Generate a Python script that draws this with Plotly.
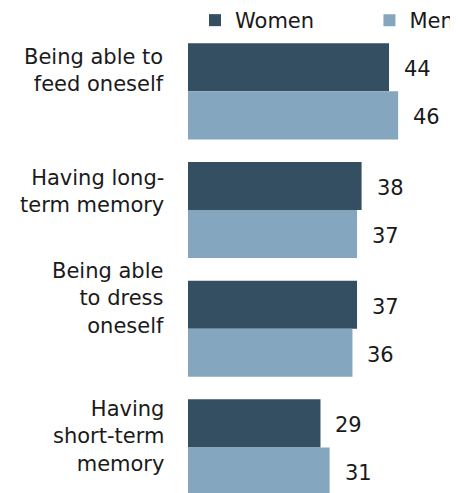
import plotly.graph_objects as go

categories = ["Being able to<br>feed oneself", "Having long-<br>term memory",
              "Being able<br>to dress<br>oneself", "Having<br>short-term<br>memory"]
women = [44, 38, 37, 29]
men = [46, 37, 36, 31]
label_shift = [21, 18.5, 30, 10.5]

WOMEN_C = "#344f62"
MEN_C = "#84a7bf"
FONT = "DejaVu Sans"
TXT = "#1a1a1a"
FS = 21

fig = go.Figure()
fig.add_trace(go.Bar(name="Women", y=categories, x=women, orientation="h",
                     marker=dict(color=WOMEN_C, line=dict(width=0)), legend="legend"))
fig.add_trace(go.Bar(name="Men", y=categories, x=men, orientation="h",
                     marker=dict(color=MEN_C, line=dict(width=0)), legend="legend2"))

ann = []
for c, w, m, s in zip(categories, women, men, label_shift):
    ann.append(dict(x=w, y=c, xref="x", yref="y", text=str(w), showarrow=False,
                    xanchor="left", yanchor="middle", xshift=13, yshift=22,
                    font=dict(family=FONT, size=FS, color=TXT)))
    ann.append(dict(x=m, y=c, xref="x", yref="y", text=str(m), showarrow=False,
                    xanchor="left", yanchor="middle", xshift=13, yshift=-26,
                    font=dict(family=FONT, size=FS, color=TXT)))
    ann.append(dict(x=0, y=c, xref="x", yref="y", text=c, showarrow=False,
                    xanchor="right", yanchor="middle", xshift=-22, yshift=s, align="right",
                    font=dict(family=FONT, size=FS, color=TXT)))

leg_common = dict(orientation="h", yanchor="top", y=1.0694,
                  font=dict(family=FONT, size=FS, color=TXT),
                  bgcolor="rgba(0,0,0,0)", itemclick=False, itemdoubleclick=False)

fig.update_layout(
    width=458, height=485,
    margin=dict(l=180, r=8, t=24, b=0, autoexpand=False),
    paper_bgcolor="white", plot_bgcolor="white",
    barmode="group", bargap=0.19, bargroupgap=0,
    xaxis=dict(range=[0, 59.1], showticklabels=False, showgrid=False,
               zeroline=False, showline=False, fixedrange=True),
    yaxis=dict(range=[3.384, -0.5], showticklabels=False, showgrid=False,
               zeroline=False, showline=False, fixedrange=True),
    legend=dict(x=0.026, xanchor="left", **leg_common),
    legend2=dict(x=0.672, xanchor="left", **leg_common),
    annotations=ann,
    showlegend=True,
)

fig.write_html("out.html")
